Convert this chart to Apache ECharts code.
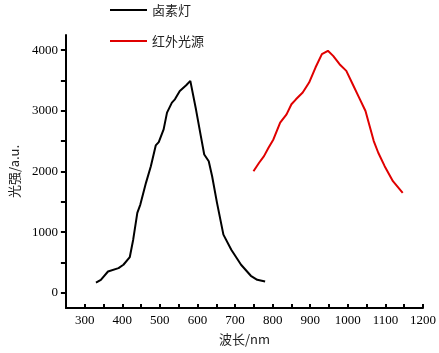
<!DOCTYPE html>
<html>
<head>
<meta charset="utf-8">
<script src="https://cdn.jsdelivr.net/npm/echarts@6/dist/echarts.min.js"></script>
<style>
html, body { margin: 0; padding: 0; background: #fff; }
#box { width: 439px; height: 353px; }
</style>
</head>
<body>
<div id="box"></div>
<script>
// 卤素灯 (wavelength nm, intensity)
var halogenX = [330, 343, 362, 390, 403, 420, 429, 440, 448, 463, 476, 489, 497, 510, 519, 532, 540, 553, 570, 581,
    596, 609, 618, 630, 639, 652, 669, 690, 716, 742, 759, 780];
var halogenY = [170, 215, 352, 408, 463, 590, 876, 1317, 1455, 1813, 2088, 2430, 2484, 2694, 2970, 3136, 3190, 3328, 3422, 3493,
    3025, 2584, 2281, 2170, 1922, 1483, 959, 711, 463, 281, 215, 187];

// 红外光源
var irX = [749, 764, 777, 789, 802, 820, 837, 850, 862, 880, 897, 914, 931, 947, 961, 978, 996, 1013,
    1030, 1047, 1058, 1069, 1081, 1098, 1120, 1146];
var irY = [2005, 2144, 2253, 2392, 2529, 2805, 2942, 3108, 3190, 3301, 3466, 3714, 3934, 3989, 3906, 3769, 3658, 3438,
    3218, 2997, 2749, 2501, 2309, 2088, 1840, 1648];

var xLabels = [300, 400, 500, 600, 700, 800, 900, 1000, 1100, 1200];
var xTicks = [300, 350, 400, 450, 500, 550, 600, 650, 700, 750, 800, 850, 900, 950, 1000, 1050, 1100, 1150, 1200];
var yLabels = [0, 1000, 2000, 3000, 4000];
var yTicks = [0, 500, 1000, 1500, 2000, 2500, 3000, 3500, 4000];

function pairs(xs, ys) {
    var out = [];
    xs.forEach(function (x, i) {
        out.push([x, ys[i]]);
    });
    return out;
}

function plain(v) {
    return String(v);
}

var numFont = 'Liberation Serif';
var cjkFont = 'Noto Sans CJK SC';

var myChart = echarts.init(document.getElementById('box'));
var option = {
    backgroundColor: '#fff',
    animation: false,
    legend: {
        orient: 'vertical',
        left: 110,
        top: 3,
        padding: 0,
        icon: 'rect',
        itemWidth: 37,
        itemHeight: 2,
        itemGap: 17,
        textStyle: { fontFamily: cjkFont, fontSize: 13, color: '#222', lineHeight: 14 },
        data: ['卤素灯', '红外光源']
    },
    grid: { left: 56, right: 15, top: 35, bottom: 45 },
    xAxis: {
        type: 'value',
        min: 250,
        max: 1200,
        name: '波长/nm',
        nameLocation: 'middle',
        nameGap: 25,
        nameTextStyle: { fontFamily: cjkFont, fontSize: 13, color: '#222' },
        axisLine: { show: true, onZero: false, lineStyle: { color: '#000', width: 2 } },
        axisTick: { show: true, inside: true, length: 4, customValues: xTicks, lineStyle: { color: '#000', width: 2 } },
        axisLabel: { customValues: xLabels, formatter: plain, margin: 6, fontFamily: numFont, fontSize: 13, color: '#000' },
        splitLine: { show: false }
    },
    yAxis: {
        type: 'value',
        min: -250,
        max: 4250,
        name: '光强/a.u.',
        nameLocation: 'middle',
        nameRotate: 90,
        nameGap: 38,
        nameTextStyle: { fontFamily: cjkFont, fontSize: 13, color: '#222' },
        axisLine: { show: true, onZero: false, lineStyle: { color: '#000', width: 2 } },
        axisTick: { show: true, length: 5, customValues: yTicks, lineStyle: { color: '#000', width: 2 } },
        axisLabel: { customValues: yLabels, formatter: plain, margin: 8, fontFamily: numFont, fontSize: 13, color: '#000' },
        splitLine: { show: false }
    },
    series: [
        {
            name: '卤素灯',
            type: 'line',
            showSymbol: false,
            symbol: 'none',
            lineStyle: { color: '#000', width: 2 },
            itemStyle: { color: '#000' },
            data: pairs(halogenX, halogenY)
        },
        {
            name: '红外光源',
            type: 'line',
            showSymbol: false,
            symbol: 'none',
            lineStyle: { color: '#e00000', width: 2 },
            itemStyle: { color: '#e00000' },
            data: pairs(irX, irY)
        }
    ]
};

myChart.setOption(option, true);
</script>
</body>
</html>
